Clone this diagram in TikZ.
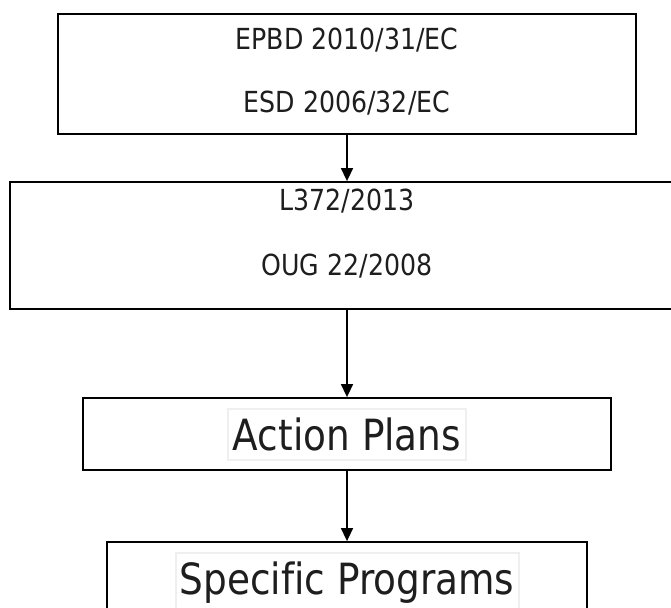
\documentclass[tikz,border=0pt]{standalone}
\usepackage{fontspec}
\setmainfont{DejaVu Sans}[FakeStretch=0.87,Ligatures=NoCommon]
\usetikzlibrary{arrows.meta}
\definecolor{txt}{HTML}{1E1E1E}
\definecolor{hl}{HTML}{EFEFEF}
\tikzset{
  boxnode/.style={draw=black, line width=1.8pt, rectangle, inner sep=0pt},
  smalltxt/.style={anchor=base, text=txt, inner sep=0pt, font=\fontsize{29}{34}\selectfont},
  bigtxt/.style={anchor=base, text=txt, inner sep=0pt, font=\fontsize{43}{50}\selectfont},
  hlframe/.style={draw=hl, line width=2pt, fill=white, rectangle, inner sep=0pt},
  flow/.style={draw=black, line width=1.5pt, -{Triangle[width=12pt,length=13pt]}}
}
\begin{document}
\begin{tikzpicture}[x=1pt,y=-1pt]
\useasboundingbox[fill=white] (0,0) rectangle (671,607);
% boxes
\node[boxnode, minimum width=578pt, minimum height=120pt] (b1) at (347,74) {};
\node[boxnode, minimum width=674pt, minimum height=127pt] (b2) at (347,245.5) {};
\node[boxnode, minimum width=528pt, minimum height=72pt] (b3) at (347,434) {};
\node[boxnode, minimum width=480pt, minimum height=80pt] (b4) at (347,582) {};
% highlight frames behind big labels
\node[hlframe, minimum width=238pt, minimum height=51pt] (h3) at (347,434.5) {};
\node[hlframe, minimum width=343pt, minimum height=67pt] (h4) at (347,586.5) {};
% texts
\node[smalltxt] (t1a) at (347,50) {EPBD 2010/31/EC};
\node[smalltxt] (t1b) at (347,113) {ESD 2006/32/EC};
\node[smalltxt] (t2a) at (347,210) {L372/2013};
\node[smalltxt] (t2b) at (347,275) {OUG 22/2008};
\node[bigtxt] (t3) at (347,450) {Action Plans};
\node[bigtxt] (t4) at (347,594) {Specific Programs};
% connectors
\draw[flow] (b1.south) -- (b2.north);
\draw[flow] (b2.south) -- (b3.north);
\draw[flow] (b3.south) -- (b4.north);
\end{tikzpicture}
\end{document}
